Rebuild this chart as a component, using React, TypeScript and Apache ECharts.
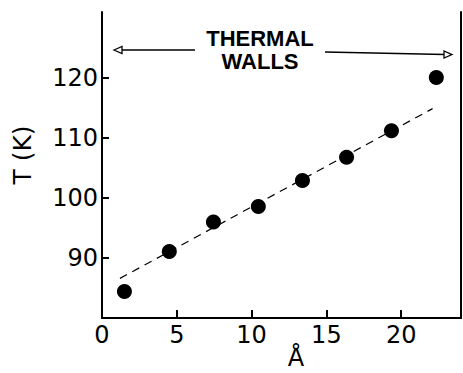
import React, { useEffect, useRef } from "react";
import * as echarts from "echarts";

// Data
const positions = [1.5, 4.5, 7.45, 10.45, 13.4, 16.35, 19.35, 22.35]; // Å
const temperatures = [84.4, 91.1, 96.0, 98.6, 102.9, 106.8, 111.2, 120.1]; // K
const fitPositions = [1.2, 22.1];
const fitTemperatures = [86.6, 114.9];
const xTickLabels = [0, 5, 10, 15, 20];
const xTicks = [5, 10, 15, 20];
const yTickLabels = [90, 100, 110, 120];

const FONT = "DejaVu Sans";
const BLACK = "#000";

export default function App() {
  const ref = useRef<HTMLDivElement>(null);
  useEffect(() => {
    const chart = echarts.init(ref.current!, null, { renderer: "svg" });
    const points = positions.map((x, i) => [x, temperatures[i]]);
    const fit = fitPositions.map((x, i) => [x, fitTemperatures[i]]);
    const titleStyle = {
      fontFamily: "Liberation Sans",
      fontWeight: "bold",
      fontSize: 22,
      fill: BLACK,
      align: "center",
      verticalAlign: "middle",
    };
    chart.setOption({
      animation: false,
      backgroundColor: "#fff",
      grid: { left: 102, right: 2, top: 12, bottom: 55 },
      xAxis: {
        type: "value",
        min: 0,
        max: 24,
        splitLine: { show: false },
        axisLine: { show: true, lineStyle: { color: BLACK, width: 2 } },
        axisTick: { show: true, inside: true, length: 8, lineStyle: { color: BLACK, width: 2 }, customValues: xTicks },
        axisLabel: { color: BLACK, fontSize: 24, fontFamily: FONT, margin: 5, customValues: xTickLabels },
      },
      yAxis: [
        {
          type: "value",
          min: 80,
          max: 131,
          splitLine: { show: false },
          axisLine: { show: true, lineStyle: { color: BLACK, width: 2 } },
          axisTick: { show: true, inside: true, length: 7, lineStyle: { color: BLACK, width: 2 }, customValues: yTickLabels },
          axisLabel: { color: BLACK, fontSize: 24, fontFamily: FONT, margin: 4, customValues: yTickLabels },
        },
        {
          type: "value",
          position: "right",
          min: 80,
          max: 131,
          splitLine: { show: false },
          axisLine: { show: true, lineStyle: { color: BLACK, width: 2 } },
          axisTick: { show: false },
          axisLabel: { show: false },
        },
      ],
      series: [
        {
          type: "line",
          data: fit,
          symbol: "none",
          lineStyle: { color: BLACK, width: 1.2, type: [8, 6] },
          z: 2,
        },
        {
          type: "scatter",
          data: points,
          symbol: "circle",
          symbolSize: 15,
          itemStyle: { color: BLACK, opacity: 1 },
          z: 3,
        },
      ],
      graphic: [
        { type: "text", x: 260, y: 38.5, style: { ...titleStyle, text: "THERMAL" } },
        { type: "text", x: 260, y: 61.5, style: { ...titleStyle, text: "WALLS" } },
        { type: "line", shape: { x1: 121, y1: 50, x2: 195, y2: 50 }, style: { stroke: BLACK, lineWidth: 1.3 } },
        { type: "polygon", shape: { points: [[114, 50], [122, 46.5], [122, 53.5]] }, style: { stroke: BLACK, fill: "#fff", lineWidth: 1.3 } },
        { type: "line", shape: { x1: 325, y1: 52, x2: 445, y2: 54.5 }, style: { stroke: BLACK, lineWidth: 1.3 } },
        { type: "polygon", shape: { points: [[452, 54.6], [444, 51], [444, 58]] }, style: { stroke: BLACK, fill: "#fff", lineWidth: 1.3 } },
        {
          type: "text",
          x: 22,
          y: 155,
          rotation: Math.PI / 2,
          style: { text: "T (K)", fontFamily: FONT, fontSize: 25, fill: BLACK, align: "center", verticalAlign: "middle" },
        },
        {
          type: "text",
          x: 296,
          y: 358,
          style: { text: "Å", fontFamily: FONT, fontSize: 24, fill: BLACK, align: "center", verticalAlign: "middle" },
        },
      ],
    });
    return () => chart.dispose();
  }, []);
  return (
    <div
      ref={ref}
      style={{ position: "fixed", left: 0, top: 0, width: 463, height: 373, background: "#fff" }}
    />
  );
}
